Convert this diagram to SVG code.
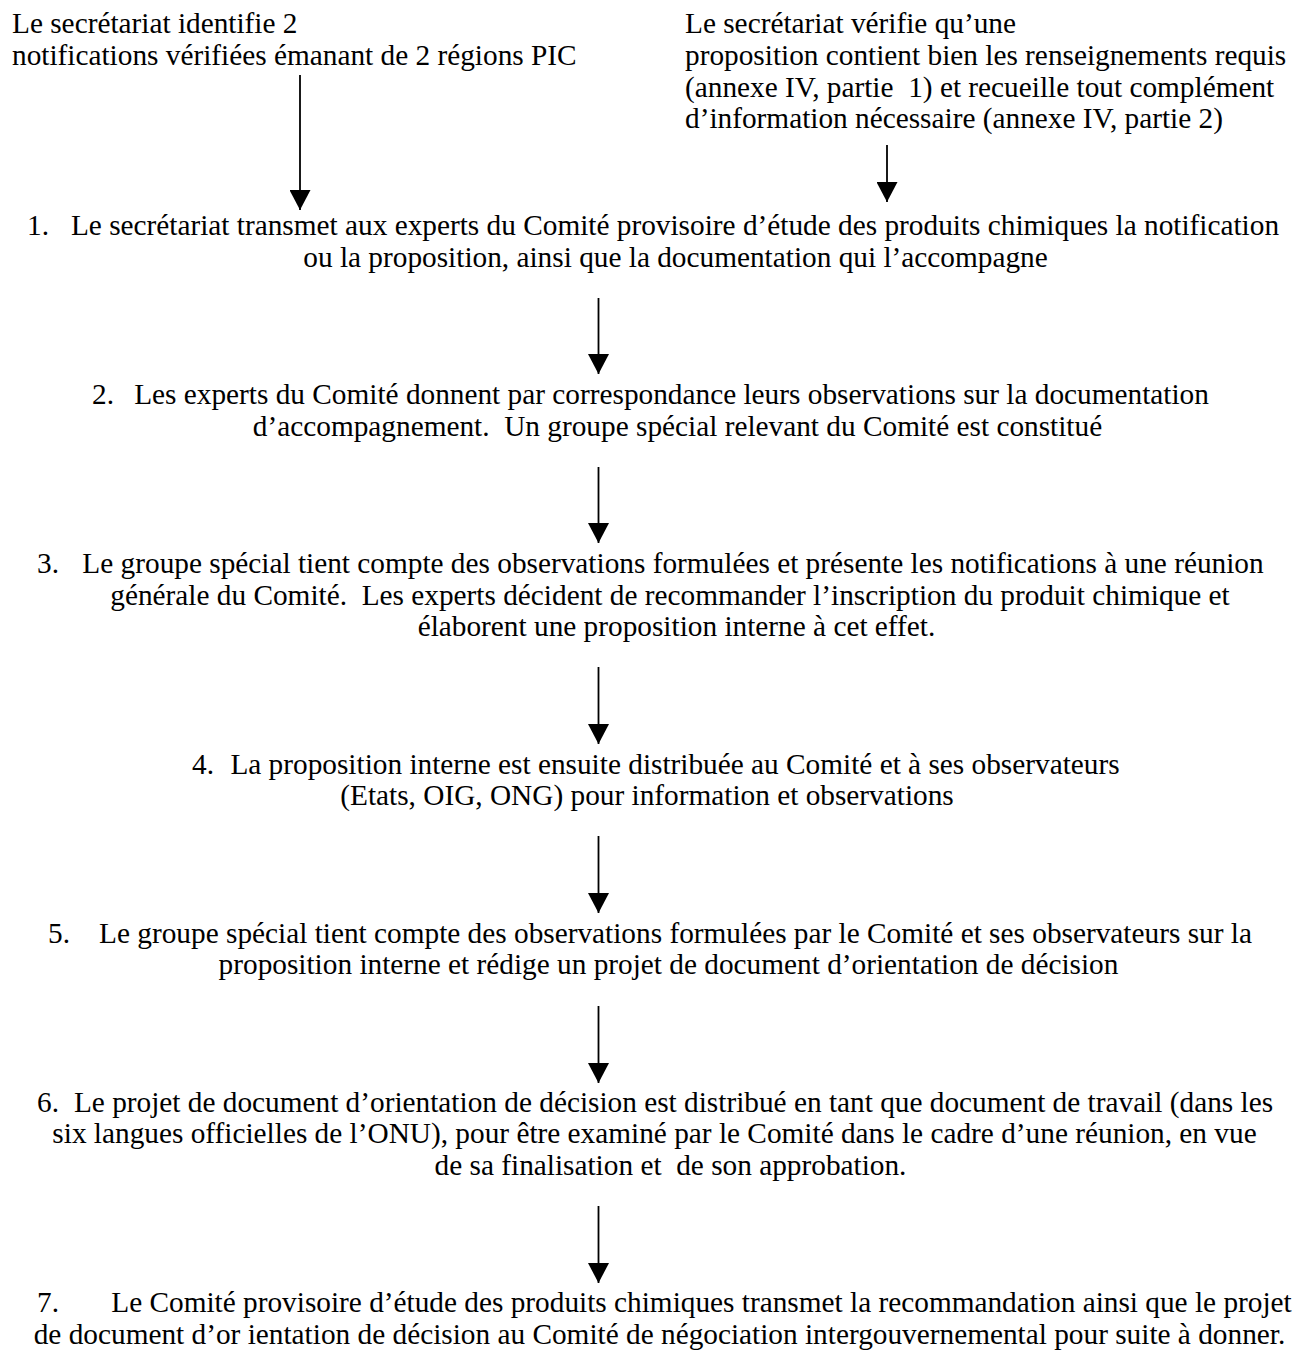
<svg xmlns="http://www.w3.org/2000/svg" width="1297" height="1352" viewBox="0 0 1297 1352" xml:space="preserve">
<style>
text{font-family:"Liberation Serif","Times New Roman",serif;font-size:29.3px;fill:#000;white-space:pre}
.c{text-anchor:middle}
.conn line{stroke:#000;stroke-width:1.8;marker-end:url(#ah)}
</style>
<defs>
<marker id="ah" markerUnits="userSpaceOnUse" viewBox="0 0 20 21" markerWidth="20" markerHeight="21" refX="20" refY="10.5" orient="auto">
<path d="M0,0 L20,10.5 L0,21 z" fill="#000"/>
</marker>
</defs>
<rect width="1297" height="1352" fill="#fff"/>
<g id="src-left">
<text x="12" y="33">Le secrétariat identifie 2</text>
<text x="12" y="65">notifications vérifiées émanant de 2 régions PIC</text>
</g>
<g id="src-right">
<text x="685" y="33">Le secrétariat vérifie qu’une</text>
<text x="685" y="65">proposition contient bien les renseignements requis</text>
<text x="685" y="97">(annexe IV, partie  1) et recueille tout complément</text>
<text x="685" y="128">d’information nécessaire (annexe IV, partie 2)</text>
</g>
<g id="step1">
<text x="27" y="235">1.</text>
<text class="c" x="675" y="235">Le secrétariat transmet aux experts du Comité provisoire d’étude des produits chimiques la notification</text>
<text class="c" x="675.5" y="267">ou la proposition, ainsi que la documentation qui l’accompagne</text>
</g>
<g id="step2">
<text x="92" y="404">2.</text>
<text class="c" x="671.5" y="404">Les experts du Comité donnent par correspondance leurs observations sur la documentation</text>
<text class="c" x="677.5" y="436">d’accompagnement.  Un groupe spécial relevant du Comité est constitué</text>
</g>
<g id="step3">
<text x="37" y="573">3.</text>
<text class="c" x="673" y="573">Le groupe spécial tient compte des observations formulées et présente les notifications à une réunion</text>
<text class="c" x="670" y="605">générale du Comité.  Les experts décident de recommander l’inscription du produit chimique et</text>
<text class="c" x="676.5" y="636">élaborent une proposition interne à cet effet.</text>
</g>
<g id="step4">
<text x="192" y="774">4.</text>
<text class="c" x="675" y="774">La proposition interne est ensuite distribuée au Comité et à ses observateurs</text>
<text class="c" x="647" y="805">(Etats, OIG, ONG) pour information et observations</text>
</g>
<g id="step5">
<text x="48" y="943">5.</text>
<text class="c" x="675.5" y="943">Le groupe spécial tient compte des observations formulées par le Comité et ses observateurs sur la</text>
<text class="c" x="668.5" y="974">proposition interne et rédige un projet de document d’orientation de décision</text>
</g>
<g id="step6">
<text x="37" y="1112">6.</text>
<text class="c" x="673.5" y="1112">Le projet de document d’orientation de décision est distribué en tant que document de travail (dans les</text>
<text class="c" x="654.5" y="1143">six langues officielles de l’ONU), pour être examiné par le Comité dans le cadre d’une réunion, en vue</text>
<text class="c" x="670.5" y="1175">de sa finalisation et  de son approbation.</text>
</g>
<g id="step7">
<text x="37" y="1312">7.</text>
<text class="c" x="701.5" y="1312">Le Comité provisoire d’étude des produits chimiques transmet la recommandation ainsi que le projet</text>
<text class="c" x="659.5" y="1344">de document d’or ientation de décision au Comité de négociation intergouvernemental pour suite à donner.</text>
</g>
<g id="connectors" class="conn">
<line x1="300" y1="75" x2="300" y2="210"/>
<line x1="887" y1="145" x2="887" y2="202"/>
<line x1="598.5" y1="298" x2="598.5" y2="374"/>
<line x1="598.5" y1="467" x2="598.5" y2="543"/>
<line x1="598.5" y1="667" x2="598.5" y2="744"/>
<line x1="598.5" y1="836" x2="598.5" y2="913"/>
<line x1="598.5" y1="1006" x2="598.5" y2="1083"/>
<line x1="598.5" y1="1206" x2="598.5" y2="1283"/>
</g>
</svg>
